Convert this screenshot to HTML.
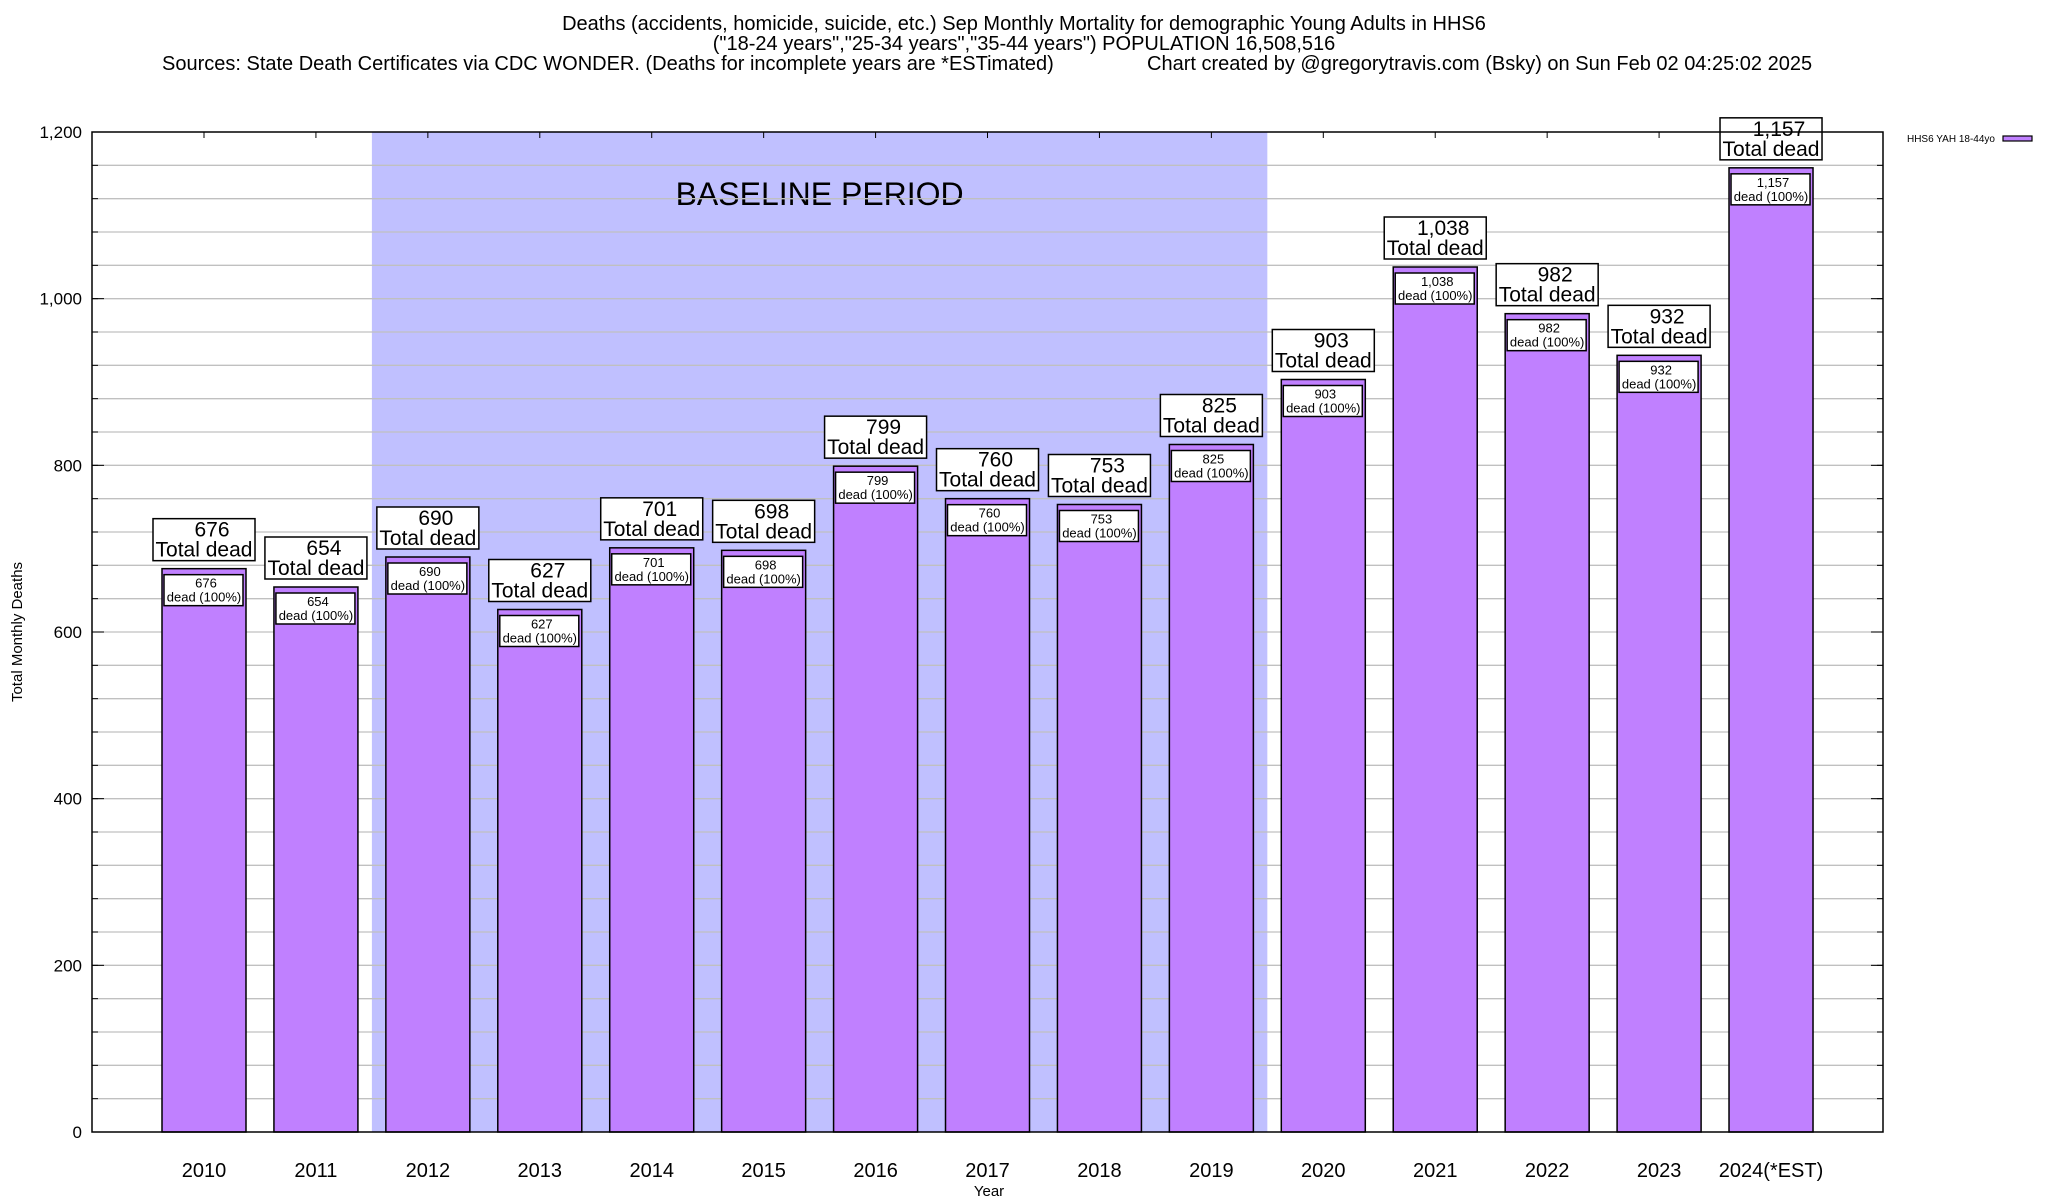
<!DOCTYPE html>
<html><head><meta charset="utf-8"><style>
html,body{margin:0;padding:0;background:#fff;}
svg{display:block;font-family:"Liberation Sans",Arial,sans-serif;}
</style></head><body>
<svg id="chart" width="2048" height="1200" viewBox="0 0 2048 1200">
<g font-size="20" fill="#000">
<text x="1024" y="30" text-anchor="middle">Deaths (accidents, homicide, suicide, etc.) Sep Monthly Mortality for demographic Young Adults in HHS6</text>
<text x="1024" y="50" text-anchor="middle">("18-24 years","25-34 years","35-44 years") POPULATION 16,508,516</text>
<text x="162" y="70">Sources: State Death Certificates via CDC WONDER. (Deaths for incomplete years are *ESTimated)</text>
<text x="1147" y="70">Chart created by @gregorytravis.com (Bsky) on Sun Feb 02 04:25:02 2025</text>
</g>
<g id="plot"></g>
</svg>
<script>
const categories = ["2010","2011","2012","2013","2014","2015","2016","2017","2018","2019","2020","2021","2022","2023","2024(*EST)"];
const deaths = [676,654,690,627,701,698,799,760,753,825,903,1038,982,932,1157];
const yTickLabels = ["0","200","400","600","800","1,000","1,200"];
const yTickValues = [0,200,400,600,800,1000,1200];
const baselineStart = 2; const baselineEnd = 9;

const L=92,R=1883,T=132,B=1132,YMAX=1200;
const x0=204, step=111.93, barW=84;
function xs(i){return x0+i*step;}
function ys(v){return B-(v/YMAX)*(B-T);}
const NS="http://www.w3.org/2000/svg";
const g=document.getElementById('plot');
function el(tag,attrs,parent){const e=document.createElementNS(NS,tag);for(const k in attrs)e.setAttribute(k,attrs[k]);(parent||g).appendChild(e);return e;}
function fmt(v){return v.toLocaleString('en-US');}

const band=el('rect',{x:xs(baselineStart)-step/2,y:T,width:(baselineEnd-baselineStart+1)*step,height:B-T,fill:'#c0c0ff'});


const bl=el('text',{x:(xs(baselineStart)-step/2+xs(baselineEnd)+step/2)/2,y:205,'text-anchor':'middle','font-size':'32'});
bl.textContent='BASELINE PERIOD';



for(let v=40;v<YMAX;v+=40){
  const gl=el('line',{x1:L,x2:R,y1:ys(v),y2:ys(v),stroke:'#c0c0c0','stroke-width':1.3});
  
  
  el('line',{x1:L,x2:L+6,y1:ys(v),y2:ys(v),stroke:'#000','stroke-width':1});
  el('line',{x1:R-6,x2:R,y1:ys(v),y2:ys(v),stroke:'#000','stroke-width':1});
}
yTickValues.forEach((v,i)=>{
  const t=el('text',{x:L-10,y:ys(v)+6,'text-anchor':'end','font-size':'17'});
  t.textContent=yTickLabels[i];
  
  
  el('line',{x1:L,x2:L+12,y1:ys(v),y2:ys(v),stroke:'#000','stroke-width':1});
  el('line',{x1:R-12,x2:R,y1:ys(v),y2:ys(v),stroke:'#000','stroke-width':1});
});

deaths.forEach((v,i)=>{
  const cx=xs(i), top=ys(v);
  const b=el('rect',{x:cx-barW/2,y:top,width:barW,height:B-top,fill:'#c080ff',stroke:'#000','stroke-width':1.5});
  
  
  el('line',{x1:cx,x2:cx,y1:T,y2:T+6,stroke:'#000','stroke-width':1});
  const ib=el('rect',{x:cx-barW/2+2,y:top+6,width:barW-5,height:31,fill:'#fff',stroke:'#000','stroke-width':1.5});
  
  
  const it=el('text',{x:cx,y:top+19,'text-anchor':'middle','font-size':'13'});
  
  
  const s1=el('tspan',{x:cx+2,dy:0},it);s1.textContent=fmt(v);
  const s2=el('tspan',{x:cx,dy:14},it);s2.textContent='dead (100%)';
  const ob=el('rect',{x:cx-51,y:top-50,width:102,height:42,fill:'#fff',stroke:'#000','stroke-width':1.5});
  
  
  const ot=el('text',{x:cx,y:top-32,'text-anchor':'middle','font-size':'21'});
  
  
  const o1=el('tspan',{x:cx+8,dy:0},ot);o1.textContent=fmt(v);
  const o2=el('tspan',{x:cx,dy:20},ot);o2.textContent='Total dead';
  const xl=el('text',{x:cx,y:1177,'text-anchor':'middle','font-size':'20'});
  xl.textContent=categories[i];
  
  
});

const fr=el('rect',{x:L,y:T,width:R-L,height:B-T,fill:'none',stroke:'#000','stroke-width':1.5});



const yt=el('text',{transform:'translate(22,632) rotate(-90)','text-anchor':'middle','font-size':'15'});
yt.textContent='Total Monthly Deaths';


const xt=el('text',{x:989,y:1196,'text-anchor':'middle','font-size':'15'});
xt.textContent='Year';



const lt=el('text',{x:1995,y:142,'text-anchor':'end','font-size':'10'});
lt.textContent='HHS6 YAH 18-44yo';


const ls=el('rect',{x:2003,y:136,width:29,height:5,fill:'#c080ff',stroke:'#000','stroke-width':1.2});


</script>
</body></html>
